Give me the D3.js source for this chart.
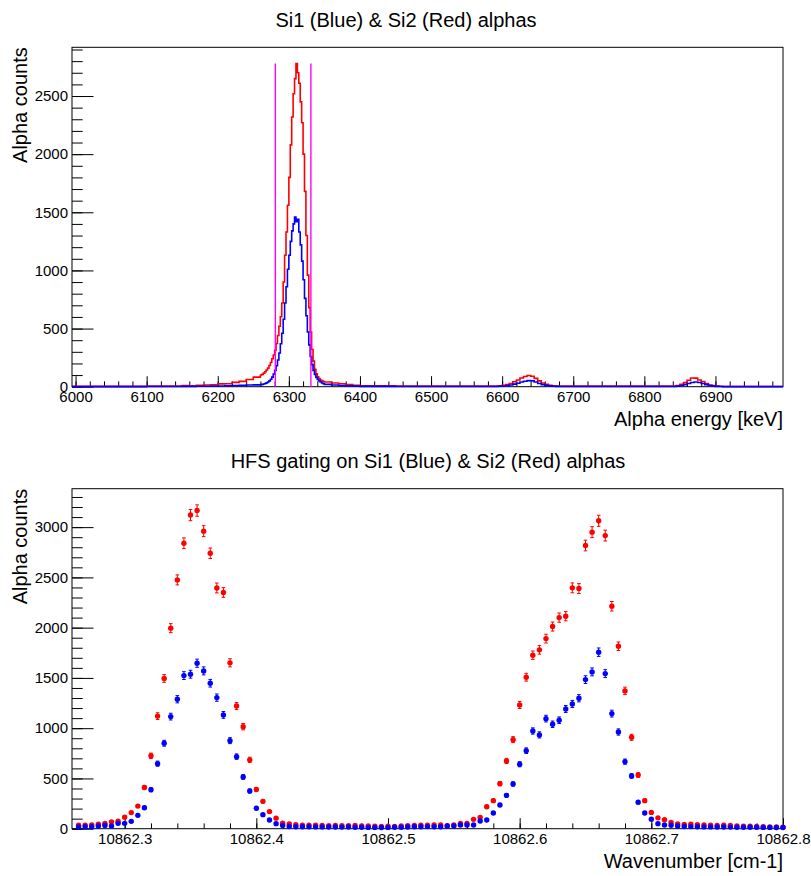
<!DOCTYPE html>
<html>
<head>
<meta charset="utf-8">
<script src="https://cdn.jsdelivr.net/npm/d3@7"></script>
<style>
  body { margin: 0; background: #fff; }
  svg text { font-family: "Liberation Sans", Arial, Helvetica, sans-serif; fill: #000; }
</style>
</head>
<body>
<svg id="chart" width="811" height="876"></svg>
<script>
// ---- alpha energy spectra (bin edges in keV, finer bins under the peaks)
const energyEdges = [5995, 6100, 6150, 6160, 6170, 6180, 6190, 6200, 6210, 6220, 6230, 6240, 6250,
  6260, 6262, 6264, 6266, 6268, 6270, 6272, 6274, 6276, 6278, 6280, 6282, 6284, 6286, 6288, 6290,
  6292, 6294, 6296, 6298, 6300, 6302, 6304, 6306, 6308, 6310, 6312, 6314, 6316, 6318, 6320, 6322,
  6324, 6326, 6328, 6330, 6332, 6334, 6336, 6338, 6340, 6342, 6344, 6346, 6348, 6350,
  6360, 6370, 6380, 6390, 6400, 6450,
  6595, 6600, 6605, 6610, 6615, 6620, 6625, 6630, 6635, 6640, 6645, 6650, 6655, 6660, 6665, 6670, 6675, 6680,
  6845, 6850, 6855, 6860, 6865, 6870, 6875, 6880, 6885, 6890, 6895, 6900, 6905, 6910,
  6995];

// Si2 (red)
const si2Counts = [3, 5, 9, 7, 13, 15, 17, 24, 26, 37, 46, 62, 82,
  100, 106, 117, 128, 144, 160, 182, 208, 240, 272, 312, 372, 440, 520, 602, 720, 900, 1130, 1330, 1560,
  1800, 2080, 2320, 2520, 2650, 2780, 2700, 2610, 2450, 2270, 2000, 1680, 1300, 960, 680, 470, 320, 220, 150, 110, 85, 70, 58, 50, 45,
  40, 32, 25, 18, 12,
  8, 5,
  8, 12, 18, 28, 42, 58, 75, 88, 96, 90, 72, 50, 32, 20, 12, 8, 6,
  5,
  10, 20, 35, 55, 75, 74, 58, 45, 28, 15, 9, 6, 4,
  2];

// Si1 (blue)
const si1Counts = [1, 2, 3, 3, 4, 4, 5, 6, 7, 9, 11, 14, 16,
  18, 20, 23, 27, 33, 40, 50, 64, 82, 108, 140, 180, 230, 290, 370, 460, 580, 720, 860, 1010,
  1130, 1250, 1340, 1400, 1460, 1420, 1440, 1330, 1220, 1080, 920, 760, 610, 470, 360, 260, 190, 140, 105, 80, 62, 50, 40, 32, 26,
  20, 14, 10, 7, 5,
  3, 2,
  4, 6, 9, 14, 22, 30, 40, 47, 52, 50, 40, 28, 18, 11, 7, 4, 3,
  2,
  5, 10, 18, 28, 36, 40, 36, 28, 18, 10, 5, 3, 2,
  1];

// energy gate (magenta lines)
const gateEnergies = [6281, 6331];
const gateHeight = 2780;

// ---- HFS scan
const wavenumbers = [
  10862.265, 10862.270, 10862.275, 10862.280, 10862.285, 10862.290, 10862.295, 10862.300, 10862.305, 10862.310,
  10862.315, 10862.320, 10862.325, 10862.330, 10862.335, 10862.340, 10862.345, 10862.350, 10862.355, 10862.360,
  10862.365, 10862.370, 10862.375, 10862.380, 10862.385, 10862.390, 10862.395, 10862.400, 10862.405, 10862.410,
  10862.415, 10862.420, 10862.425, 10862.430, 10862.435, 10862.440, 10862.445, 10862.450, 10862.455, 10862.460,
  10862.465, 10862.470, 10862.475, 10862.480, 10862.485, 10862.490, 10862.495, 10862.500, 10862.505, 10862.510,
  10862.515, 10862.520, 10862.525, 10862.530, 10862.535, 10862.540, 10862.545, 10862.550, 10862.555, 10862.560,
  10862.565, 10862.570, 10862.575, 10862.580, 10862.585, 10862.590, 10862.595, 10862.600, 10862.605, 10862.610,
  10862.615, 10862.620, 10862.625, 10862.630, 10862.635, 10862.640, 10862.645, 10862.650, 10862.655, 10862.660,
  10862.665, 10862.670, 10862.675, 10862.680, 10862.685, 10862.690, 10862.695, 10862.700, 10862.705, 10862.710,
  10862.715, 10862.720, 10862.725, 10862.730, 10862.735, 10862.740, 10862.745, 10862.750, 10862.755, 10862.760,
  10862.765, 10862.770, 10862.775, 10862.780, 10862.785, 10862.790, 10862.795, 10862.800];

const si2Hfs = [
  34, 36, 38, 45, 52, 68, 75, 115, 160, 225,
  410, 725, 1120, 1495, 1995, 2475, 2840, 3120, 3165, 2960,
  2740, 2395, 2350, 1650, 1220, 1015, 685, 390, 272, 170,
  105, 55, 47, 40, 35, 36, 34, 33, 31, 33,
  30, 31, 33, 28, 27, 25, 23, 24, 23, 27,
  30, 33, 36, 35, 37, 37, 30, 37, 53, 53,
  93, 113, 219, 279, 448, 674, 886, 1231, 1507, 1726,
  1779, 1891, 2011, 2100, 2114, 2396, 2389, 2817, 2950, 3063,
  2916, 2213, 1815, 1371, 909, 534, 279, 162, 108, 90,
  62, 48, 42, 45, 40, 38, 35, 33, 34, 32,
  28, 26, 24, 22, 20, 18, 17, 15];

const si1Hfs = [
  18, 20, 20, 27, 33, 27, 53, 53, 73, 133,
  209, 388, 647, 850, 1115, 1288, 1523, 1537, 1646, 1570,
  1447, 1304, 1132, 876, 717, 515, 375, 203, 140, 87,
  50, 33, 22, 20, 20, 19, 18, 18, 17, 17,
  16, 17, 15, 14, 13, 13, 12, 13, 14, 15,
  17, 19, 19, 21, 20, 20, 27, 27, 37, 37,
  37, 77, 87, 156, 236, 332, 445, 641, 776, 972,
  933, 1095, 1039, 1079, 1191, 1241, 1298, 1483, 1560, 1756,
  1543, 1145, 962, 667, 525, 263, 156, 95, 50, 37,
  35, 27, 22, 21, 20, 18, 18, 17, 17, 16,
  15, 15, 14, 14, 13, 13, 12, 12];

// ---- tick labels
const energyTicks = [6000, 6100, 6200, 6300, 6400, 6500, 6600, 6700, 6800, 6900];
const countTicksTop = [0, 500, 1000, 1500, 2000, 2500];
const wavenumberTicks = [10862.3, 10862.4, 10862.5, 10862.6, 10862.7, 10862.8];
const countTicksBottom = [0, 500, 1000, 1500, 2000, 2500, 3000];

const RED = '#ff0000';
const BLUE = '#0000ff';
const MAGENTA = '#ff00ff';
const FONT = '"Liberation Sans", Arial, Helvetica, sans-serif';

const svg = d3.select('#chart');
svg.append('rect').attr('width', 811).attr('height', 876).attr('fill', '#fff');

const frameLeft = 72;
const frameRight = 783;

function drawPanel(p) {
  const g = svg.append('g');

  // x axis, minor then major ticks (pointing into the frame)
  const xMinor = g.append('g').attr('transform', `translate(0,${p.bottom})`)
    .call(d3.axisBottom(p.x).tickValues(p.xMinor).tickSize(-5.3).tickFormat(''));
  const xMajor = g.append('g').attr('transform', `translate(0,${p.bottom})`)
    .call(d3.axisBottom(p.x).tickValues(p.xMajor).tickSize(-10.5).tickPadding(4.3).tickFormat(p.xFormat));

  const yMinor = g.append('g').attr('transform', `translate(${frameLeft},0)`)
    .call(d3.axisLeft(p.y).tickValues(p.yMinor).tickSize(-10.7).tickFormat(''));
  const yMajor = g.append('g').attr('transform', `translate(${frameLeft},0)`)
    .call(d3.axisLeft(p.y).tickValues(p.yMajor).tickSize(-21.5).tickPadding(4).tickFormat(d3.format('d')));

  [xMinor, xMajor, yMinor, yMajor].forEach(a => {
    a.select('.domain').remove();
    a.attr('font-family', FONT).attr('font-size', 15);
    a.selectAll('line').attr('stroke', '#000').attr('stroke-width', 1);
    a.selectAll('text').attr('fill', '#000');
  });

  g.append('rect')
    .attr('x', frameLeft).attr('y', p.top)
    .attr('width', frameRight - frameLeft).attr('height', p.bottom - p.top)
    .attr('fill', 'none').attr('stroke', '#000').attr('stroke-width', 1);

  g.append('text')
    .attr('x', p.titleX).attr('y', p.top - 20.5)
    .attr('text-anchor', 'middle').attr('font-size', 20)
    .text(p.title);

  g.append('text')
    .attr('x', frameRight).attr('y', p.bottom + 39)
    .attr('text-anchor', 'end').attr('font-size', 20)
    .text(p.xLabel);

  g.append('text')
    .attr('transform', `translate(27,${p.top}) rotate(-90)`)
    .attr('text-anchor', 'end').attr('font-size', 20)
    .text('Alpha counts');

  return g;
}

// ================= top panel: energy spectra
const topPanel = { top: 47.3, bottom: 386.7 };
const xE = d3.scaleLinear().domain([5995, 6995]).range([frameLeft, frameRight]);
const yE = d3.scaleLinear()
  .domain([0, d3.max(si2Counts.concat(si1Counts)) * 1.05])
  .range([topPanel.bottom, topPanel.top]);

drawPanel({
  top: topPanel.top, bottom: topPanel.bottom, x: xE, y: yE,
  xMajor: energyTicks, xMinor: d3.range(6000, 6995, 20),
  yMajor: countTicksTop, yMinor: d3.range(0, yE.domain()[1], 100),
  xFormat: d3.format('d'),
  title: 'Si1 (Blue) & Si2 (Red) alphas', titleX: 406,
  xLabel: 'Alpha energy [keV]'
});

function histPoints(counts) {
  const pts = counts.map((c, i) => ({ e: energyEdges[i], c: c }));
  pts.push({ e: energyEdges[energyEdges.length - 1], c: counts[counts.length - 1] });
  return pts;
}

const histLine = d3.line()
  .x(d => xE(d.e))
  .y(d => yE(d.c))
  .curve(d3.curveStepAfter);

[[si2Counts, RED], [si1Counts, BLUE]].forEach(([counts, color]) => {
  svg.append('path')
    .datum(histPoints(counts))
    .attr('d', histLine)
    .attr('fill', 'none')
    .attr('stroke', color)
    .attr('stroke-width', 1.6);
});

svg.append('g').selectAll('line')
  .data(gateEnergies)
  .enter()
  .append('line')
  .attr('x1', d => xE(d)).attr('x2', d => xE(d))
  .attr('y1', yE(0)).attr('y2', yE(gateHeight))
  .attr('stroke', MAGENTA)
  .attr('stroke-width', 1.4);

// ================= bottom panel: HFS scan
const botPanel = { top: 488.7, bottom: 828.7 };
const xW = d3.scaleLinear().domain([10862.26, 10862.8]).range([frameLeft, frameRight]);
const maxWithErr = d3.max(si2Hfs.concat(si1Hfs), v => v + Math.sqrt(v));
const yW = d3.scaleLinear().domain([0, maxWithErr * 1.05]).range([botPanel.bottom, botPanel.top]);

drawPanel({
  top: botPanel.top, bottom: botPanel.bottom, x: xW, y: yW,
  xMajor: wavenumberTicks,
  xMinor: d3.range(0, 27).map(i => 10862.28 + i * 0.02).filter(v => v <= 10862.8001),
  yMajor: countTicksBottom, yMinor: d3.range(0, yW.domain()[1], 100),
  xFormat: d3.format('.1f'),
  title: 'HFS gating on Si1 (Blue) & Si2 (Red) alphas', titleX: 428,
  xLabel: 'Wavenumber [cm-1]'
});

function drawPoints(values, color) {
  const data = values.map((v, i) => ({ w: wavenumbers[i], v: v, err: Math.sqrt(v) }));
  const g = svg.append('g');
  const cap = 1.8;

  const err = g.selectAll('g.err')
    .data(data)
    .enter()
    .append('g')
    .attr('class', 'err')
    .attr('stroke', color)
    .attr('stroke-width', 1);

  err.append('line')
    .attr('x1', d => xW(d.w)).attr('x2', d => xW(d.w))
    .attr('y1', d => yW(d.v - d.err)).attr('y2', d => yW(d.v + d.err));
  err.append('line')
    .attr('x1', d => xW(d.w) - cap).attr('x2', d => xW(d.w) + cap)
    .attr('y1', d => yW(d.v + d.err)).attr('y2', d => yW(d.v + d.err));
  err.append('line')
    .attr('x1', d => xW(d.w) - cap).attr('x2', d => xW(d.w) + cap)
    .attr('y1', d => yW(d.v - d.err)).attr('y2', d => yW(d.v - d.err));

  g.selectAll('circle')
    .data(data)
    .enter()
    .append('circle')
    .attr('cx', d => xW(d.w))
    .attr('cy', d => yW(d.v))
    .attr('r', 2.7)
    .attr('fill', color);
}

drawPoints(si2Hfs, RED);
drawPoints(si1Hfs, BLUE);
</script>
</body>
</html>
